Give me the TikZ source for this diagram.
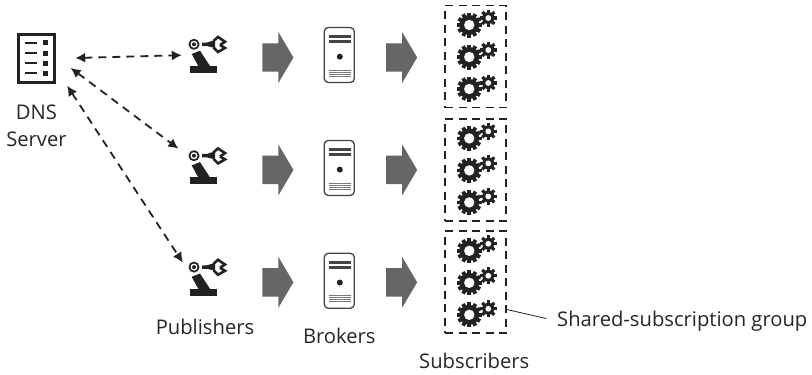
\documentclass[tikz,border=0pt]{standalone}
\usepackage{fontspec}
\setsansfont{Open Sans}
\usetikzlibrary{positioning, arrows.meta, shapes.arrows}
\definecolor{iconCol}{HTML}{222222}
\definecolor{blockCol}{HTML}{666666}
\definecolor{textCol}{HTML}{262626}

% one gear: x, y, root radius, tip radius, hole radius, teeth step, tooth half width
\newcommand{\gearicon}[7]{%
    \begin{scope}[shift={(#1,#2)}]
        \fill[iconCol] (0,0) circle (#3pt);
        \foreach \ang in {0,#6,...,359} {
            \fill[iconCol, rotate=\ang] (-#7pt,0pt) rectangle (#7pt,#4pt);
        }
        \fill[white] (0,0) circle (#5pt);
    \end{scope}%
}

\tikzset{
    pics/dnsface/.style={code={
        \foreach \rowy in {-15.8,-5.5,4.8,14.8} {
            \draw[iconCol, line width=2pt] (-11.5,\rowy) -- (0.2,\rowy);
            \fill[iconCol] (6.2,\rowy-2.5) rectangle (11.2,\rowy+2.5);
        }
    }},
    pics/robotface/.style={code={
        \fill[iconCol] (-13.5,-10.7) circle (5.5pt);
        \fill[white] (-13.5,-10.7) circle (3.5pt);
        \fill[iconCol] (-13.5,-10.7) circle (2pt);
        \fill[iconCol] (-5.5,-12.5) -- (-0.5,-12.5) -- (7.5,-15) -- (7.5,-7) -- (-0.5,-9) -- (-5.5,-9) -- cycle;
        \fill[iconCol] (-15.8,-1) -- (-7.5,-4.3) -- (2.5,11) -- (-9.2,11) -- cycle;
        \fill[iconCol] (-17.5,11) rectangle (9.5,18);
        \draw[iconCol, line width=2.6pt] (6,-14) -- (10.5,-18) -- (17.5,-13.3) -- (12.5,-10);
        \draw[iconCol, line width=2.6pt] (6,-7.5) -- (10.5,-3) -- (17.5,-7) -- (12.5,-10);
    }},
    pics/brokerface/.style={code={
        \fill[iconCol!85] (-10.5,-20) rectangle (11.5,-16.7);
        \fill[iconCol!85] (-10.5,-15) rectangle (11.5,-11.7);
        \fill[iconCol] (0.5,1.7) circle (3pt);
        \foreach \rowy in {15,17,19,21} {
            \draw[iconCol!60, line width=0.7pt] (-10.5,\rowy) -- (11.5,\rowy);
        }
    }},
    pics/gearstack/.style={code={
        \gearicon{-6.5}{-31.5}{10}{12.5}{5.2}{30}{1.9}
        \gearicon{-6.5}{0.5}{10}{12.5}{5.2}{30}{1.9}
        \gearicon{-6.5}{32.5}{10}{12.5}{5.2}{30}{1.9}
        \gearicon{12.5}{-38.5}{6}{8.5}{2.9}{45}{1.6}
        \gearicon{12.5}{-6.5}{6}{8.5}{2.9}{45}{1.6}
        \gearicon{12.5}{26.5}{6}{8.5}{2.9}{45}{1.6}
    }}
}

\begin{document}
\begin{tikzpicture}[
    x=1pt, y=-1pt,
    % Node styles
    dnsbox/.style={
        rectangle,
        draw=iconCol,
        line width=3pt,
        minimum width=36.5pt,
        minimum height=48pt,
        inner sep=0pt
    },
    robotbox/.style={
        rectangle,
        minimum width=37pt,
        minimum height=36pt,
        inner sep=0pt
    },
    blockarrow/.style={
        single arrow,
        fill=blockCol,
        inner xsep=0pt,
        inner ysep=14pt,
        minimum height=31pt,
        minimum width=51pt,
        single arrow head extend=11.5pt,
        single arrow tip angle=119,
        text width=0pt
    },
    brokerbox/.style={
        rectangle,
        rounded corners=4pt,
        draw=iconCol!85,
        line width=1.3pt,
        minimum width=30pt,
        minimum height=55pt,
        inner sep=0pt
    },
    groupbox/.style={
        rectangle,
        draw=iconCol,
        line width=1.8pt,
        dash pattern=on 8pt off 5.5pt,
        minimum width=61pt,
        minimum height=102pt,
        inner sep=0pt
    },
    caption/.style={
        font=\sffamily\fontsize{20.2}{26}\selectfont,
        text=textCol,
        align=center,
        inner sep=0pt
    },
    dnslink/.style={
        <->,
        >={Latex[length=10pt,width=10pt]},
        line width=1.8pt,
        draw=iconCol,
        dash pattern=on 8pt off 6pt
    }
]
    \useasboundingbox (0,0) rectangle (812,375);

    % ==== DNS ====
    \node[dnsbox] (dns) at (36.5,58.5) {};
    \pic at (dns) {dnsface};
    \node[caption, below=21pt of dns] (dnslabel) {DNS\\[1pt]Server};

    % ==== ROW 1 ====
    \node[robotbox] (pub1) at (207.5,55) {};
    \node[blockarrow, right=36pt of pub1, yshift=-2.5pt] (arra1) {};
    \node[brokerbox, right=30pt of arra1, yshift=2.5pt] (brk1) {};
    \node[blockarrow, right=31pt of brk1, yshift=-2.5pt] (arrb1) {};
    \node[groupbox, right=27pt of arrb1, yshift=1pt] (grp1) {};

    % ==== ROW 2 ====
    \node[robotbox, below=75pt of pub1] (pub2) {};
    \node[blockarrow, right=36pt of pub2, yshift=-3.5pt] (arra2) {};
    \node[brokerbox, right=30pt of arra2, yshift=2pt] (brk2) {};
    \node[blockarrow, right=31pt of brk2, yshift=-2pt] (arrb2) {};
    \node[groupbox, right=27pt of arrb2] (grp2) {};

    % ==== ROW 3 ====
    \node[robotbox, below=75pt of pub2] (pub3) {};
    \node[blockarrow, right=36pt of pub3, yshift=-4.5pt] (arra3) {};
    \node[brokerbox, right=30pt of arra3, yshift=1.5pt] (brk3) {};
    \node[blockarrow, right=31pt of brk3, yshift=-1.5pt] (arrb3) {};
    \node[groupbox, right=27pt of arrb3] (grp3) {};

    % ==== ICONS ====
    \pic at (pub1) {robotface};
    \pic at (pub2) {robotface};
    \pic at (pub3) {robotface};
    \pic at (brk1) {brokerface};
    \pic at (brk2) {brokerface};
    \pic at (brk3) {brokerface};
    \pic at (grp1) {gearstack};
    \pic at (grp2) {gearstack};
    \pic at (grp3) {gearstack};

    % ==== LABELS ====
    \node[caption, below=23pt of pub3, xshift=-2.5pt] (publabel) {Publishers};
    \node[caption, below=19pt of brk3] (brklabel) {Brokers};
    \node[caption, below=19pt of grp3, xshift=-1.5pt] (sublabel) {Subscribers};
    \node[caption, anchor=west] (sharedlabel) at (557,321) {Shared-subscription group};

    % ==== CONNECTIONS ====
    \draw[dnslink, shorten <=19pt, shorten >=7pt] (dns.east) -- (pub1.west);
    \draw[dnslink, shorten <=18pt, shorten >=13pt] (dns.4) -- (pub2.152);
    \draw[dnslink, shorten <=20pt, shorten >=11pt] (dns.-28) -- (pub3.162);
    \draw[iconCol, line width=0.8pt, shorten >=11pt] (grp3.-41) -- (sharedlabel.west);

\end{tikzpicture}
\end{document}
